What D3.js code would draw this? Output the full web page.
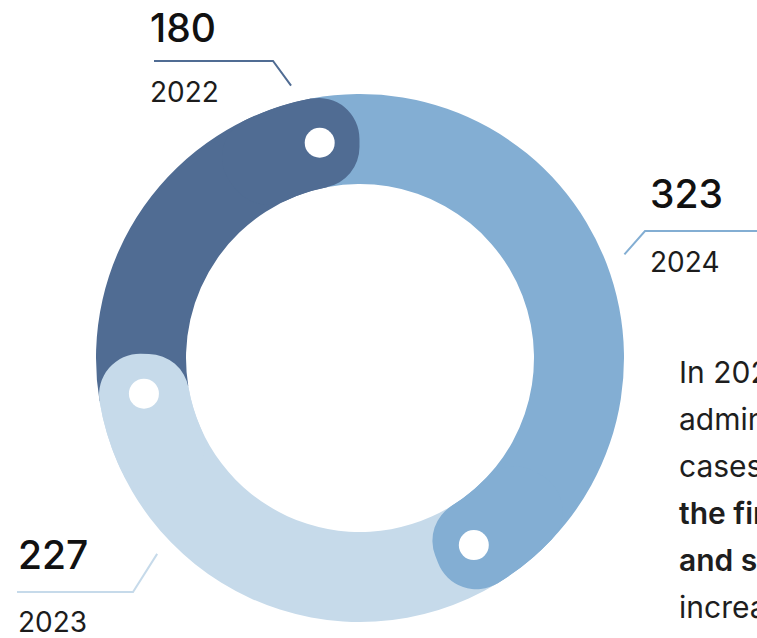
<!DOCTYPE html>
<html>
<head>
<meta charset="utf-8">
<script src="https://cdn.jsdelivr.net/npm/d3@7"></script>
<style>
  html, body { margin: 0; padding: 0; background: #fff; overflow: hidden; }
  svg { display: block; overflow: hidden; }
  text { font-family: Inter, "Noto Sans", sans-serif; }
</style>
</head>
<body>
<svg id="chart" width="757" height="638"></svg>
<script>
// Administrative cases per year
const years = ["2022", "2023", "2024"];
const cases = [180, 227, 323];
const colors = ["#506c93", "#c6daea", "#83aed3"];

// Side note text (lines, bold flag)
const noteLines = [
  ["In 2024, the number of", false],
  ["administrative", false],
  ["cases heard by", false],
  ["the first-instance", true],
  ["and second-instance courts", true],
  ["increased by 42%.", false]
];

const svg = d3.select("#chart");
const cx = 360, cy = 358;
const rOuter = 264, rInner = 174, rMid = (rOuter + rInner) / 2;
const deg = Math.PI / 180;
const start = -10.6 * deg;

const pie = d3.pie().sort(null).value(d => d)
  .startAngle(start).endAngle(start - 2 * Math.PI);
const slices = pie(cases);

const polar = (a, r) => [cx + r * Math.sin(a), cy - r * Math.cos(a)];

const ring = d3.arc().innerRadius(rInner).outerRadius(rOuter);
const capArc = d3.arc().innerRadius(rInner).outerRadius(rOuter).cornerRadius(41);
const capExt = 40 / rMid;

const g = svg.append("g").attr("transform", `translate(${cx},${cy})`);

// base ring segments
g.selectAll("path.seg").data(slices).join("path")
  .attr("class", "seg")
  .attr("d", ring)
  .attr("fill", (d, i) => colors[i]);

// rounded heads that overlap the neighbouring segment
g.selectAll("path.cap").data(slices).join("path")
  .attr("class", "cap")
  .attr("d", d => capArc({ startAngle: d.startAngle + capExt, endAngle: d.startAngle - 0.45 }))
  .attr("fill", (d, i) => colors[i]);

// white markers at the segment heads
svg.selectAll("circle.dot").data(slices).join("circle")
  .attr("class", "dot")
  .attr("cx", d => polar(d.startAngle, rMid)[0])
  .attr("cy", d => polar(d.startAngle, rMid)[1])
  .attr("r", 15)
  .attr("fill", "#fff");

// value labels with leader lines
const labelLayout = [
  { tipAngle: -14.2, tipR: 281, elbow: [273, 61], endX: 154, tx: 150, numY: 42, yearY: 102 },
  { tipAngle: 226, tipR: 282, elbow: [133, 592], endX: 17, tx: 18, numY: 569, yearY: 632 },
  { tipAngle: 68.6, tipR: 284, elbow: [645, 231], endX: 760, tx: 650, numY: 208, yearY: 272 }
];

labelLayout.forEach((L, i) => {
  const tip = polar(L.tipAngle * deg, L.tipR);
  svg.append("path")
    .attr("d", d3.line()([tip, L.elbow, [L.endX, L.elbow[1]]]))
    .attr("fill", "none")
    .attr("stroke", colors[i])
    .attr("stroke-width", 2);
  svg.append("text")
    .attr("x", L.tx).attr("y", L.numY)
    .attr("font-size", 39).attr("font-weight", 500)
    .attr("fill", "#111")
    .text(cases[i]);
  svg.append("text")
    .attr("x", L.tx).attr("y", L.yearY)
    .attr("font-size", 28).attr("font-weight", 400)
    .attr("fill", "#1c1c1c")
    .text(years[i]);
});

// note paragraph
const note = svg.append("text")
  .attr("x", 679).attr("y", 383)
  .attr("font-size", 30)
  .attr("fill", "#1e1e1e");
noteLines.forEach(([t, b], i) => {
  note.append("tspan")
    .attr("x", 679)
    .attr("y", 383 + i * 47)
    .attr("font-weight", b ? 600 : 400)
    .text(t);
});
</script>
</body>
</html>
